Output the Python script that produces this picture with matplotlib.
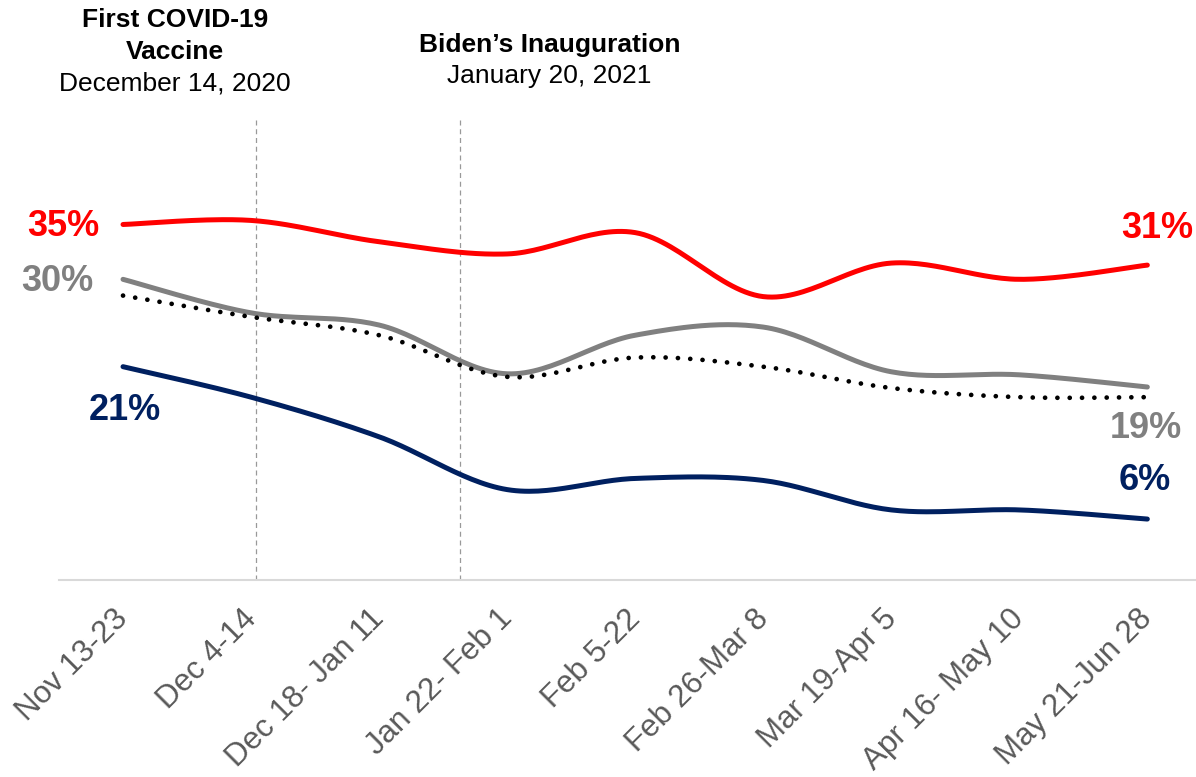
import numpy as np
import matplotlib
matplotlib.use("Agg")
import matplotlib.pyplot as plt
from matplotlib.transforms import ScaledTranslation

categories = ["Nov 13-23", "Dec 4-14", "Dec 18- Jan 11", "Jan 22- Feb 1", "Feb 5-22",
              "Feb 26-Mar 8", "Mar 19-Apr 5", "Apr 16- May 10", "May 21-Jun 28"]
red_vals = [35, 35.4, 33.3, 32.1, 34.2, 27.9, 31.2, 29.6, 31]
gray_vals = [29.6, 26.3, 25.1, 20.3, 24.1, 24.9, 20.5, 20.2, 19]
dotted_vals = [28.0, 25.9, 24.1, 20.0, 21.9, 21.0, 18.9, 18.0, 18.0]
navy_vals = [21, 18, 14.1, 8.9, 10.0, 9.8, 6.9, 6.9, 6]
event_pos = [1.04, 2.63]

RED = "#FF0000"
GRAY = "#808080"
NAVY = "#002060"

plt.rcParams['font.family'] = ['Liberation Sans', 'DejaVu Sans']

def smooth(xs, ys, n=30):
    P = np.column_stack([xs, ys]).astype(float)
    P = np.vstack([P[0], P, P[-1]])
    out = []
    t = np.linspace(0, 1, n)
    for i in range(1, len(P) - 2):
        p0, p1, p2, p3 = P[i - 1], P[i], P[i + 1], P[i + 2]
        c1 = p1 + (p2 - p0) / 6
        c2 = p2 - (p3 - p1) / 6
        seg = ((1 - t) ** 3)[:, None] * p1 + (3 * (1 - t) ** 2 * t)[:, None] * c1 \
            + (3 * (1 - t) * t ** 2)[:, None] * c2 + (t ** 3)[:, None] * p2
        out.append(seg if i == 1 else seg[1:])
    s = np.vstack(out)
    return s[:, 0], s[:, 1]

fig = plt.figure(figsize=(11.96, 7.77), dpi=100)
ax = fig.add_axes([59 / 1196, 1 - 580 / 777, 1 - 59 / 1196, 580 / 777])
x = np.arange(len(categories))

for v, c in [(red_vals, RED), (gray_vals, GRAY), (navy_vals, NAVY)]:
    sx, sy = smooth(x, v)
    ax.plot(sx, sy, color=c, lw=3.6, solid_capstyle='round', zorder=3)
sx, sy = smooth(x, dotted_vals)
ax.plot(sx, sy, color="black", lw=3.4, linestyle=(0, (0.01, 2.6)),
        dash_capstyle='round', zorder=4)

for ep in event_pos:
    ax.plot([ep, ep], [0, 45.5], color="#999999", lw=0.9, linestyle=(0, (4, 3)), zorder=1)

ax.set_xlim(-0.5, 8.38)
ax.set_ylim(0, 57.1)
for s in ['top', 'left', 'right']:
    ax.spines[s].set_visible(False)
ax.spines['bottom'].set_color("#D9D9D9")
ax.spines['bottom'].set_linewidth(1.5)
ax.set_yticks([])
ax.set_xticks(x)
ax.set_xticklabels(categories, rotation=45, ha='right', va='top',
                   rotation_mode='anchor', fontsize=22.5, color="#595959")
ax.tick_params(axis='x', length=0, pad=17)
off = ScaledTranslation(-10 / 100, 0, fig.dpi_scale_trans)
for lab in ax.get_xticklabels():
    lab.set_transform(lab.get_transform() + off)

bold = dict(fontsize=26, fontweight='bold', ha='center', va='center')
def px(xp, yp):
    return xp / 1196, 1 - yp / 777
fig.text(*px(63, 227), f"{red_vals[0]:.0f}%", color=RED, **bold)
fig.text(*px(57, 282), f"{gray_vals[0]:.0f}%", color=GRAY, **bold)
fig.text(*px(125, 410), f"{navy_vals[0]:.0f}%", color=NAVY, **bold)
fig.text(*px(1157, 229), f"{red_vals[-1]:.0f}%", color=RED, **bold)
fig.text(*px(1146, 428), f"{gray_vals[-1]:.0f}%", color=GRAY, **bold)
fig.text(*px(1145, 480), f"{navy_vals[-1]:.0f}%", color=NAVY, **bold)

fig.text(*px(175, 20), "First COVID-19", fontsize=19, fontweight='bold', ha='center', va='center')
fig.text(*px(175, 52), "Vaccine", fontsize=19, fontweight='bold', ha='center', va='center')
fig.text(*px(175, 84), "December 14, 2020", fontsize=19, ha='center', va='center')
fig.text(*px(550, 45), "Biden\u2019s Inauguration", fontsize=19, fontweight='bold', ha='center', va='center')
fig.text(*px(549, 76), "January 20, 2021", fontsize=19, ha='center', va='center')

fig.savefig("out.png", dpi=100)
